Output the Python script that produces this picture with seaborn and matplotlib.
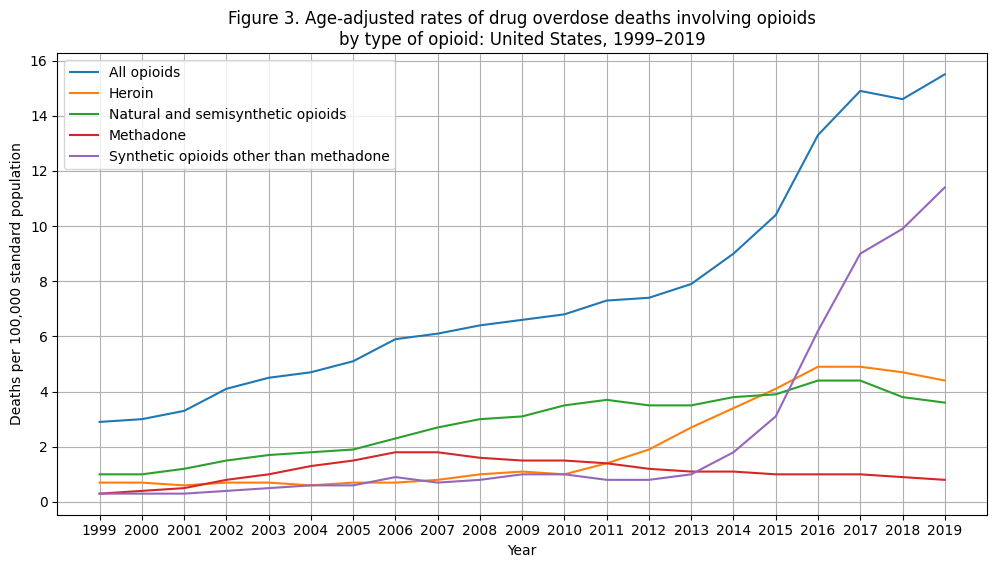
import pandas as pd
import seaborn as sns
import matplotlib.pyplot as plt

years = list(range(1999, 2020))

all_opioids = [2.9, 3.0, 3.3, 4.1, 4.5, 4.7, 5.1, 5.9, 6.1, 6.4, 6.6, 6.8, 7.3, 7.4, 7.9, 9.0, 10.4, 13.3, 14.9, 14.6, 15.5]
heroin = [0.7, 0.7, 0.6, 0.7, 0.7, 0.6, 0.7, 0.7, 0.8, 1.0, 1.1, 1.0, 1.4, 1.9, 2.7, 3.4, 4.1, 4.9, 4.9, 4.7, 4.4]
natural = [1.0, 1.0, 1.2, 1.5, 1.7, 1.8, 1.9, 2.3, 2.7, 3.0, 3.1, 3.5, 3.7, 3.5, 3.5, 3.8, 3.9, 4.4, 4.4, 3.8, 3.6]
methadone = [0.3, 0.4, 0.5, 0.8, 1.0, 1.3, 1.5, 1.8, 1.8, 1.6, 1.5, 1.5, 1.4, 1.2, 1.1, 1.1, 1.0, 1.0, 1.0, 0.9, 0.8]
synthetic = [0.3, 0.3, 0.3, 0.4, 0.5, 0.6, 0.6, 0.9, 0.7, 0.8, 1.0, 1.0, 0.8, 0.8, 1.0, 1.8, 3.1, 6.2, 9.0, 9.9, 11.4]

series = {
    'All opioids': all_opioids,
    'Heroin': heroin,
    'Natural and semisynthetic opioids': natural,
    'Methadone': methadone,
    'Synthetic opioids other than methadone': synthetic,
}

# long format for seaborn
df = pd.concat(
    [pd.DataFrame({'Year': years, 'Rate': v, 'Type': k}) for k, v in series.items()],
    ignore_index=True,
)

fig, ax = plt.subplots(figsize=(9.97, 5.68), dpi=100)
sns.lineplot(data=df, x='Year', y='Rate', hue='Type', ax=ax)

ax.set_xticks(years)
ax.grid(True)
ax.set_xlabel('Year')
ax.set_ylabel('Deaths per 100,000 standard population')
ax.set_title('Figure 3. Age-adjusted rates of drug overdose deaths involving opioids\n'
             'by type of opioid: United States, 1999\u20132019')
ax.legend(title=None, loc='upper left')

fig.subplots_adjust(left=0.0575, right=0.990, top=0.906, bottom=0.094)
plt.savefig('out.png', dpi=100)
